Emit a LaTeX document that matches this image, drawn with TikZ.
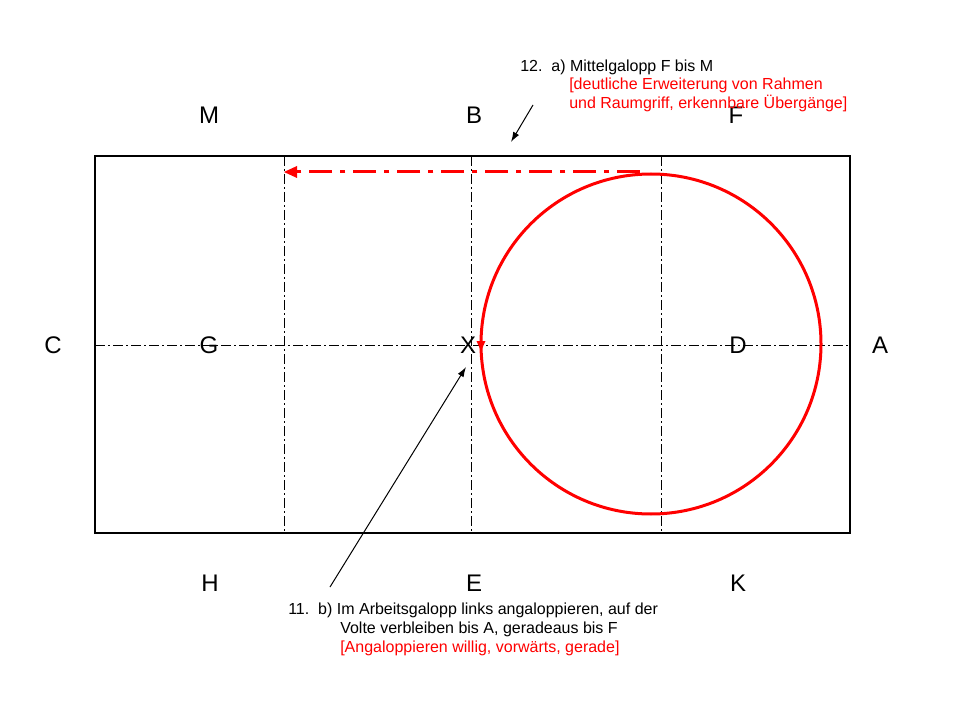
\documentclass[tikz,border=0pt]{standalone}
\usepackage{fontspec}
\setmainfont{Liberation Sans}
\usetikzlibrary{arrows.meta}
\begin{document}
\begin{tikzpicture}[x=0.75pt,y=-0.75pt,
  letter/.style={font=\fontsize{18pt}{21pt}\selectfont, inner sep=0pt},
  note/.style={font=\fontsize{12pt}{14pt}\selectfont, inner sep=0pt, anchor=base west},
  rednote/.style={note, text=red},
  field/.style={line width=1.5pt},
  axis/.style={line width=0.75pt, dash pattern=on 7.5pt off 2.25pt on 1.5pt off 2.25pt},
  redpath/.style={draw=red, line width=2.25pt},
  reddash/.style={redpath, dash pattern=on 17pt off 6pt on 4pt off 6pt},
  pointer/.style={line width=0.75pt, -{Latex[length=7.5pt,width=5pt]}}
]
\useasboundingbox (0,0) rectangle (960,720);
% arena
\coordinate (tl) at (95,156);
\coordinate (br) at (850,533);
\draw[axis] (95,345) -- (850,345);
\draw[axis] (284,156) -- (284,533);
\draw[axis] (471,156) -- (471,533);
\draw[axis] (661,156) -- (661,533);
\draw[field] (tl) rectangle (br);
% letters
\node[letter] (M) at (209,115) {M};
\node[letter] (B) at (474,115) {B};
\node[letter] (F) at (736,115) {F};
\node[letter] (C) at (53,345) {C};
\node[letter] (G) at (209,345) {G};
\node[letter] (X) at (468,345) {X};
\node[letter] (D) at (738,345) {D};
\node[letter] (A) at (880,345) {A};
\node[letter] (H) at (210,583) {H};
\node[letter] (E) at (474,583) {E};
\node[letter] (K) at (738,583) {K};
% circle (volte)
\draw[redpath] (651,344) circle[radius=127.5pt];
\coordinate (v1) at (481,336);
\coordinate (v2) at (481,351);
\fill[red] (v2) -- (476.5,341) -- (485.5,341) -- cycle;
% medium canter arrow
\coordinate (r1) at (640,172);
\coordinate (r2) at (284,172);
\draw[reddash] (r1) -- (293,172);
\fill[red] (r2) -- (297,166) -- (297,178) -- cycle;
% top annotation
\node[note] (t1) at (520,72) {12.\ \ a) Mittelgalopp F bis M};
\node[rednote] (t2) at (569,90) {[deutliche Erweiterung von Rahmen};
\node[rednote] (t3) at (569,109) {und Raumgriff, erkennbare Übergänge]};
\coordinate (p1) at (533,105);
\coordinate (p2) at (511,142);
\draw[pointer] (p1) -- (p2);
% bottom annotation
\node[note] (b1) at (288,614) {11.\ \ b) Im Arbeitsgalopp links angaloppieren, auf der};
\node[note] (b2) at (340,633) {Volte verbleiben bis A, geradeaus bis F};
\node[rednote] (b3) at (340,652) {[Angaloppieren willig, vorwärts, gerade]};
\coordinate (q1) at (330,587);
\coordinate (q2) at (466,367);
\draw[pointer] (q1) -- (q2);
\end{tikzpicture}
\end{document}
